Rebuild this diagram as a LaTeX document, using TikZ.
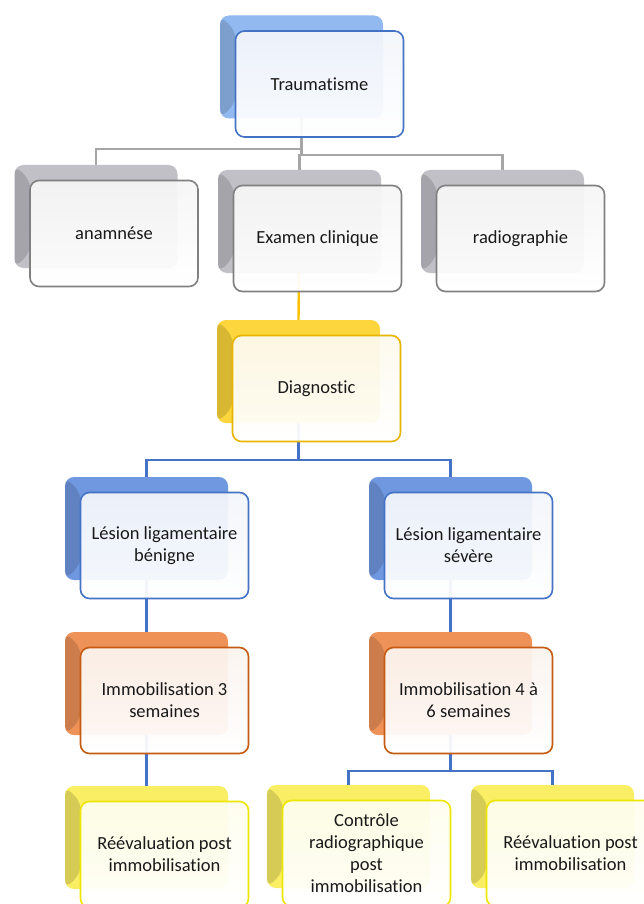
\documentclass[tikz,border=0pt]{standalone}
\usepackage{fontspec}
\setmainfont{Carlito}[Ligatures=NoCommon]
\usepackage{tikz}
\usetikzlibrary{positioning,backgrounds}
\definecolor{tblue}{RGB}{68,114,196}
\definecolor{tbluebk}{RGB}{146,186,240}
\definecolor{lbluebk}{RGB}{112,152,224}
\definecolor{tgray}{RGB}{128,128,128}
\definecolor{tgraybk}{RGB}{192,192,198}
\definecolor{tgold}{RGB}{232,180,0}
\definecolor{tgoldbk}{RGB}{252,214,60}
\definecolor{torange}{RGB}{197,90,17}
\definecolor{torangebk}{RGB}{238,146,88}
\definecolor{tyellow}{RGB}{238,230,0}
\definecolor{tyellowbk}{RGB}{250,238,100}
\definecolor{linkgray}{RGB}{166,166,166}
\definecolor{linkgold}{RGB}{255,192,0}

\begin{document}
\begin{tikzpicture}[
    x=1pt, y=-1pt,
    back/.style={rectangle, rounded corners=9pt, fill=#1, minimum width=163pt,
                 minimum height=103pt, inner sep=0pt,
                 path picture={\fill[black, opacity=.14]
                   (path picture bounding box.north west) -- ++(16,16)
                   -- ([shift={(16,-16)}]path picture bounding box.south west)
                   -- (path picture bounding box.south west) -- cycle;}},
    box/.style={rectangle, rounded corners=9pt, draw=#1, line width=1.6pt,
                top color=#1!7, bottom color=white, fill opacity=.94,
                text opacity=1, text=black!90,
                minimum width=168pt, minimum height=106pt, inner sep=2pt,
                align=center, font=\fontsize{18.5}{22}\selectfont},
    conn/.style={line width=2.4pt, draw=#1}
  ]
    \useasboundingbox (0,0) rectangle (644,904);
    \clip (0,0) rectangle (644,904);

    % level 1
    \node[back=tbluebk] (traumas) at (301.5,67) {};
    \node[box=tblue] (trauma) at ([shift={(18,17)}]traumas.center) {Traumatisme};

    % level 2
    \node[back=tgraybk] (anams) at (96,216.5) {};
    \node[box=tgray] (anam) at ([shift={(18,17)}]anams.center) {anamnése};
    \node[back=tgraybk] (exams) at (299.5,221.5) {};
    \node[box=tgray] (exam) at ([shift={(18,17)}]exams.center) {Examen clinique};
    \node[back=tgraybk] (radios) at (502.5,221.5) {};
    \node[box=tgray] (radio) at ([shift={(18,17)}]radios.center) {radiographie};

    % level 3
    \node[back=tgoldbk] (diags) at (298.5,371.5) {};
    \node[box=tgold] (diag) at ([shift={(18,17)}]diags.center) {Diagnostic};

    % level 4
    \node[back=lbluebk] (benignes) at (146.5,528.5) {};
    \node[box=tblue] (benigne) at ([shift={(18,17)}]benignes.center)
      {Lésion ligamentaire\\bénigne};
    \node[back=lbluebk] (severes) at (450.5,528.5) {};
    \node[box=tblue] (severe) at ([shift={(18,17)}]severes.center)
      {Lésion ligamentaire\\sévère};

    % level 5
    \node[back=torangebk] (immo3s) at (146.5,683.5) {};
    \node[box=torange] (immo3) at ([shift={(18,17)}]immo3s.center)
      {Immobilisation 3\\semaines};
    \node[back=torangebk] (immo46s) at (450.5,683.5) {};
    \node[box=torange] (immo46) at ([shift={(18,17)}]immo46s.center)
      {Immobilisation 4 à\\6 semaines};

    % level 6
    \node[back=tyellowbk] (reevas) at (146.5,837.5) {};
    \node[box=tyellow] (reeva) at ([shift={(18,17)}]reevas.center)
      {Réévaluation post\\immobilisation};
    \node[back=tyellowbk] (ctrls) at (348.5,836.5) {};
    \node[box=tyellow] (ctrl) at ([shift={(18,17)}]ctrls.center)
      {Contrôle\\radiographique\\post\\immobilisation};
    \node[back=tyellowbk] (reevbs) at (552.5,836.5) {};
    \node[box=tyellow] (reevb) at ([shift={(18,17)}]reevbs.center)
      {Réévaluation post\\immobilisation};

    % connectors
    \begin{scope}[on background layer]
      \draw[conn=linkgray] (traumas.center) -- ++(0,82) -| (anams.north);
      \draw[conn=linkgray] (traumas.center) -- ++(0,88) -| (exams.north);
      \draw[conn=linkgray] (traumas.center) -- ++(0,88) -| (radios.north);
      \draw[conn=linkgold] (exams.center) -- (diags.north);
      \draw[conn=tblue] (diags.center) -- ++(0,88.5) -| (benignes.north);
      \draw[conn=tblue] (diags.center) -- ++(0,88.5) -| (severes.north);
      \draw[conn=tblue] (benignes.center) -- (immo3s.north);
      \draw[conn=tblue] (immo3s.center) -- (reevas.north);
      \draw[conn=tblue] (severes.center) -- (immo46s.north);
      \draw[conn=tblue] (immo46s.center) -- ++(0,87.5) -| (ctrls.north);
      \draw[conn=tblue] (immo46s.center) -- ++(0,87.5) -| (reevbs.north);
    \end{scope}
  \end{tikzpicture}
\end{document}
